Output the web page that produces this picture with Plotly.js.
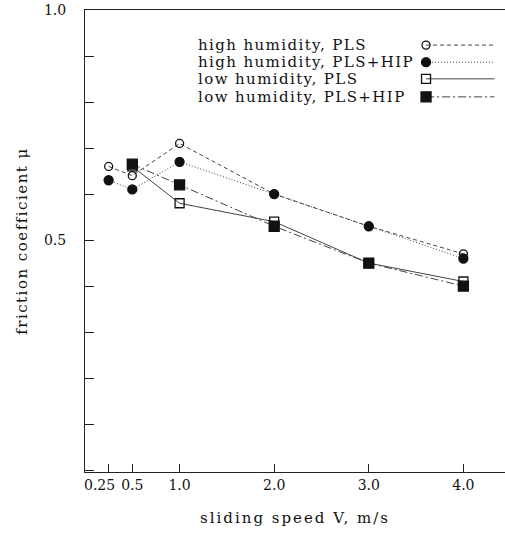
<!DOCTYPE html>
<html>
<head>
<meta charset="utf-8">
<script src="https://cdn.plot.ly/plotly-3.0.1.min.js"></script>
<style>
html,body{margin:0;padding:0;background:#fff;}
#chart{width:505px;height:534px;}
#chart .annotation-text.legtext{letter-spacing:1.4px;}
#chart .xtitle{letter-spacing:2px;}
#chart .ytitle{letter-spacing:1.5px;}
</style>
</head>
<body>
<div id="chart"></div>
<script>
// sliding speeds, m/s
var speedHigh = [0.25, 0.5, 1.0, 2.0, 3.0, 4.0];
var speedLow = [0.5, 1.0, 2.0, 3.0, 4.0];
// friction coefficients
var highPLS = [0.66, 0.64, 0.71, 0.60, 0.53, 0.47];
var highPLSHIP = [0.63, 0.61, 0.67, 0.60, 0.53, 0.46];
var lowPLS = [0.66, 0.58, 0.54, 0.45, 0.41];
var lowPLSHIP = [0.665, 0.62, 0.53, 0.45, 0.40];
var seriesNames = ["high humidity, PLS", "high humidity, PLS+HIP", "low humidity, PLS", "low humidity, PLS+HIP"];
var xTickVals = [0.25, 0.5, 1.0, 2.0, 3.0, 4.0];
var xTickText = ["0.25", "0.5", "1.0", "2.0", "3.0", "4.0"];
var yTickVals = [0.5, 1.0];
var yTickText = ["0.5", "1.0"];

var FONT = "DejaVu Serif, Liberation Serif, serif";
var styles = [
  {sym: "circle-open", dash: "4px,3px", size: 8},
  {sym: "circle", dash: "1px,2px", size: 9},
  {sym: "square-open", dash: "solid", size: 9},
  {sym: "square", dash: "8px,3px,2px,3px", size: 10}
];
var xs = [speedHigh, speedHigh, speedLow, speedLow];
var ys = [highPLS, highPLSHIP, lowPLS, lowPLSHIP];

var traces = [];
for (var i = 0; i < 4; i++) {
  traces.push({
    x: xs[i], y: ys[i], type: "scatter", mode: "lines+markers", name: seriesNames[i],
    line: {color: "#444", width: 1, dash: styles[i].dash},
    marker: {symbol: styles[i].sym, size: styles[i].size, color: "#111", line: {color: "#111", width: 1.3}},
    showlegend: false, cliponaxis: false
  });
}
// manual legend (symbol right of label, as in the original)
var legY = [0.924, 0.887, 0.851, 0.812];
var annotations = [];
for (var i = 0; i < 4; i++) {
  traces.push({
    x: [0.812, 0.975], y: [legY[i], legY[i]], xaxis: "x2", yaxis: "y2", type: "scatter", mode: "lines",
    line: {color: "#444", width: 1, dash: styles[i].dash}, showlegend: false, hoverinfo: "skip"
  });
  traces.push({
    x: [0.812], y: [legY[i]], xaxis: "x2", yaxis: "y2", type: "scatter", mode: "markers",
    marker: {symbol: styles[i].sym, size: styles[i].size, color: "#111", line: {color: "#111", width: 1.3}},
    showlegend: false, hoverinfo: "skip"
  });
  annotations.push({
    xref: "paper", yref: "paper", x: 0.265, y: legY[i], xanchor: "left", yanchor: "middle", align: "left",
    text: seriesNames[i], showarrow: false, font: {family: FONT, size: 15, color: "#111"}
  });
}
// the crowded first tick label is drawn shifted left of its tick, as in the original
var shownTickText = xTickText.slice();
shownTickText[0] = "";
annotations.push({
  xref: "x", yref: "paper", x: xTickVals[0], y: 0, xanchor: "center", yanchor: "top",
  xshift: -9, yshift: -3, text: xTickText[0], showarrow: false, font: {family: FONT, size: 14, color: "#111"}
});

var layout = {
  width: 505, height: 534,
  margin: {l: 85, r: 0, t: 10, b: 62},
  paper_bgcolor: "#fff", plot_bgcolor: "#fff",
  showlegend: false,
  font: {family: FONT, size: 14, color: "#111"},
  xaxis: {
    range: [0, 4.44], tickvals: xTickVals, ticktext: shownTickText, tickangle: 0,
    ticks: "inside", ticklen: 8, tickcolor: "#222", tickwidth: 1,
    showline: true, linecolor: "#222", linewidth: 1, mirror: true,
    showgrid: false, zeroline: false,
    tickfont: {family: FONT, size: 14},
    title: {text: "sliding speed V, m/s", font: {family: FONT, size: 15}, standoff: 20}
  },
  yaxis: {
    range: [-0.004, 1.0], tickvals: yTickVals, ticktext: yTickText,
    ticks: "inside", ticklen: 9, tickcolor: "#222", tickwidth: 1, ticklabelstandoff: 15,
    minor: {dtick: 0.1, tick0: 0, ticks: "inside", ticklen: 9, tickcolor: "#222"},
    showline: true, linecolor: "#222", linewidth: 1, mirror: false,
    showgrid: false, zeroline: false,
    tickfont: {family: FONT, size: 14},
    title: {text: "friction coefficient μ", font: {family: FONT, size: 15}, standoff: 12}
  },
  xaxis2: {overlaying: "x", anchor: "y2", range: [0, 1], visible: false, fixedrange: true},
  yaxis2: {overlaying: "y", anchor: "x2", range: [0, 1], visible: false, fixedrange: true},
  annotations: annotations
};
Plotly.newPlot("chart", traces, layout, {staticPlot: true, displayModeBar: false}).then(function () {
  var texts = document.querySelectorAll("#chart .annotation-text");
  for (var k = 0; k < 4 && k < texts.length; k++) texts[k].classList.add("legtext");
});
</script>
</body>
</html>
